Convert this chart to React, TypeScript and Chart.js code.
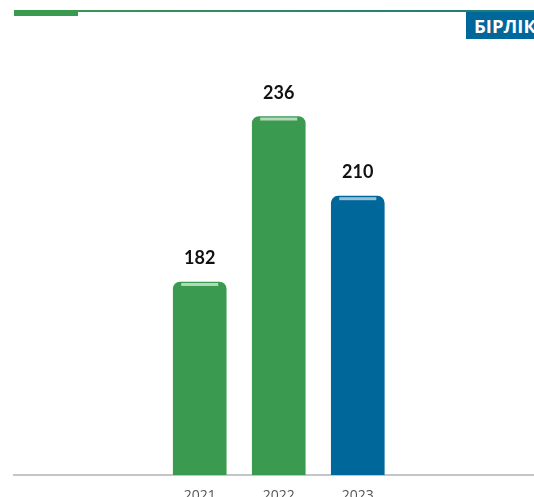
import React, { useEffect, useRef } from "react";
import { Chart, registerables } from "chart.js";

Chart.register(...registerables);

const years = [2021, 2022, 2023];
const values = [182, 236, 210];
const barColors = ["#3a9a4f", "#3a9a4f", "#00679b"];
const capColors = ["rgba(220,236,222,0.75)", "rgba(220,236,222,0.75)", "rgba(200,222,236,0.75)"];
const unitLabel = "БІРЛІК";

const capPlugin = {
  id: "caps",
  afterDatasetsDraw(chart: any) {
    const ctx = chart.ctx;
    const meta = chart.getDatasetMeta(0);
    meta.data.forEach((bar: any, i: number) => {
      const w = bar.width;
      const left = bar.x - w / 2;
      ctx.save();
      ctx.fillStyle = capColors[i];
      ctx.fillRect(left + 8, bar.y + 1, w - 16, 3);
      ctx.fillStyle = "#111";
      ctx.font = "700 18px Lato";
      ctx.textAlign = "center";
      ctx.textBaseline = "alphabetic";
      ctx.fillText(String(values[i]), bar.x, bar.y - 18);
      ctx.restore();
    });
  },
};

export default function App() {
  const ref = useRef<HTMLCanvasElement | null>(null);

  useEffect(() => {
    if (!ref.current) return;
    const chart = new Chart(ref.current, {
      type: "bar",
      data: {
        datasets: [
          {
            data: years.map((y, i) => ({ x: y, y: values[i] })),
            backgroundColor: barColors,
            borderRadius: { topLeft: 7, topRight: 7, bottomLeft: 0, bottomRight: 0 },
            borderSkipped: "bottom",
            barThickness: 53,
          },
        ],
      },
      options: {
        animation: false,
        responsive: false,
        maintainAspectRatio: false,
        layout: { padding: { left: 14, right: 0, top: 43, bottom: 0 } },
        plugins: { legend: { display: false }, tooltip: { enabled: false } },
        scales: {
          x: {
            type: "linear",
            offset: false,
            bounds: "data",
            min: 2018.65,
            max: 2025.23,
            grid: { display: false, drawTicks: false, offset: false },
            border: { display: true, color: "#c3c8c6", width: 2 },
            afterBuildTicks: (scale: any) => {
              scale.ticks = years.map((v) => ({ value: v }));
            },
            afterFit: (scale: any) => {
              scale.height = 35;
            },
            ticks: {
              padding: 13,
              color: "#555",
              font: { family: "'Open Sans'", size: 14 },
              callback: (v: any) => String(v),
              maxRotation: 0,
              autoSkip: false,
            },
          },
          y: {
            display: false,
            min: 119,
            max: 260,
          },
        },
      },
      plugins: [capPlugin],
    });
    return () => chart.destroy();
  }, []);

  return (
    <div
      style={{
        position: "fixed",
        left: 0,
        top: 0,
        width: 534,
        height: 497,
        overflow: "hidden",
        background: "#fff",
      }}
    >
      <canvas ref={ref} width={534} height={510} style={{ position: "absolute", left: 0, top: 0 }} />
      <div
        style={{
          position: "absolute",
          left: 14,
          top: 10,
          width: 520,
          height: 2,
          background: "linear-gradient(to right, #3a9a4f, #1b7a7e)",
        }}
      />
      <div
        style={{
          position: "absolute",
          left: 14,
          top: 10,
          width: 64,
          height: 6,
          background: "#3a9a4f",
        }}
      />
      <div
        style={{
          position: "absolute",
          left: 466,
          top: 12,
          height: 27,
          paddingLeft: 8,
          paddingRight: 8,
          background: "#00679b",
          color: "#fff",
          fontFamily: "'Open Sans'",
          fontWeight: 700,
          fontSize: 18.5,
          lineHeight: "27px",
          whiteSpace: "nowrap",
        }}
      >
        {unitLabel}
      </div>
    </div>
  );
}
